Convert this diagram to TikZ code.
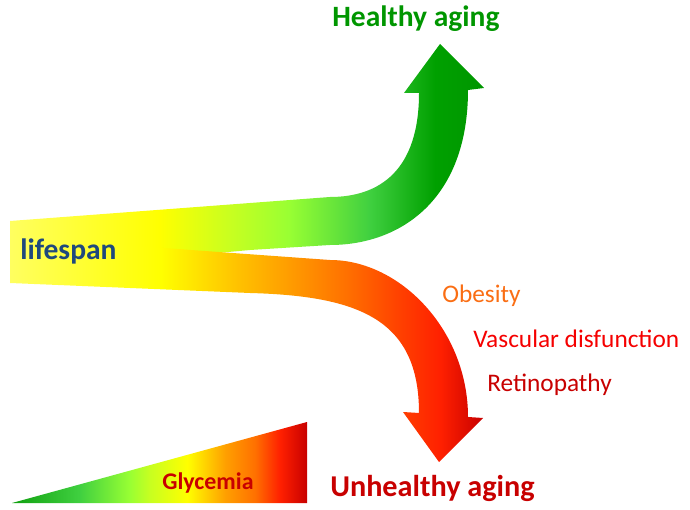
\documentclass[tikz,border=0pt]{standalone}
\usepackage{fontspec}
\setmainfont{Carlito}
\usepackage{tikz}
\usetikzlibrary{positioning}

\definecolor{paleyellow}{RGB}{255,255,96}
\definecolor{pureyellow}{RGB}{255,255,0}
\definecolor{limegreen}{RGB}{200,255,32}
\definecolor{lightgreen}{RGB}{153,255,51}
\definecolor{midgreen}{RGB}{64,208,64}
\definecolor{deepgreen}{RGB}{0,160,0}
\definecolor{darkgreen}{RGB}{0,150,0}
\definecolor{amber}{RGB}{255,192,0}
\definecolor{lightorange}{RGB}{255,160,0}
\definecolor{midorange}{RGB}{255,112,0}
\definecolor{redorange}{RGB}{255,64,0}
\definecolor{brightred}{RGB}{255,32,0}
\definecolor{darkred}{RGB}{200,0,0}
\definecolor{glygreen}{RGB}{16,160,16}
\definecolor{lifeblue}{RGB}{31,73,125}
\definecolor{obesityorange}{RGB}{250,110,20}
\definecolor{vascred}{RGB}{245,0,0}

\pgfdeclarehorizontalshading{healthyshade}{100bp}{%
  color(0bp)=(paleyellow); color(25bp)=(paleyellow); color(40.8bp)=(pureyellow);
  color(48.2bp)=(limegreen); color(54.4bp)=(lightgreen); color(62.9bp)=(midgreen);
  color(69.8bp)=(deepgreen); color(75bp)=(darkgreen); color(100bp)=(darkgreen)}
\pgfdeclarehorizontalshading{unhealthyshade}{100bp}{%
  color(0bp)=(paleyellow); color(25bp)=(paleyellow); color(40.9bp)=(pureyellow);
  color(49.3bp)=(amber); color(54bp)=(lightorange); color(60.6bp)=(midorange);
  color(66.2bp)=(redorange); color(70.5bp)=(brightred); color(75bp)=(darkred);
  color(100bp)=(darkred)}
\pgfdeclarehorizontalshading{glycshade}{100bp}{%
  color(0bp)=(glygreen); color(25bp)=(glygreen); color(36.5bp)=(midgreen);
  color(45bp)=(lightgreen); color(48.4bp)=(limegreen); color(54.7bp)=(pureyellow);
  color(61.1bp)=(lightorange); color(66.2bp)=(midorange); color(70.4bp)=(brightred);
  color(75bp)=(darkred); color(100bp)=(darkred)}

\begin{document}
\begin{tikzpicture}[
    x=0.025cm, y=-0.025cm,
    textbox/.style={inner sep=0pt, anchor=base west},
    headtext/.style={textbox, font=\fontsize{21}{25}\selectfont\bfseries},
    causetext/.style={textbox, font=\fontsize{18}{22}\selectfont}
  ]
  \useasboundingbox (0,0) rectangle (690,510);

  \path[shading=healthyshade] (10,221) -- (330,197)
    .. controls (380,197) and (419,170) .. (419,93) -- (404,93) -- (440,44)
    -- (484,88) -- (468,90) .. controls (468,200) and (400,245) .. (330,245)
    -- (250,250) -- (10,272) -- cycle;

  \path[shading=unhealthyshade] (10,237) -- (330,260)
    .. controls (400,260) and (468,330) .. (468,417) -- (483,418) -- (439,462)
    -- (403,412) -- (419,413) .. controls (419,320) and (360,296) .. (250,293)
    -- (10,283) -- cycle;

  \path[shading=glycshade] (12,503) -- (307,503) -- (307,422) -- cycle;

  \node[headtext, text=darkgreen] (healthy) at (332,27) {Healthy aging};
  \node[headtext, text=lifeblue] (lifespan) at (20,260) {lifespan};
  \node[headtext, font=\fontsize{21.5}{25}\selectfont\bfseries, text=darkred] (unhealthy) at (330,496) {Unhealthy aging};
  \node[causetext, text=obesityorange] (obesity) at (442,303) {Obesity};
  \node[causetext, text=vascred] (vascular) at (473,348) {Vascular disfunction};
  \node[causetext, text=darkred] (retino) at (487,392) {Retinopathy};
  \node[textbox, font=\fontsize{17}{20}\selectfont\bfseries, text=darkred] (glycemia) at (162,489) {Glycemia};
\end{tikzpicture}
\end{document}
